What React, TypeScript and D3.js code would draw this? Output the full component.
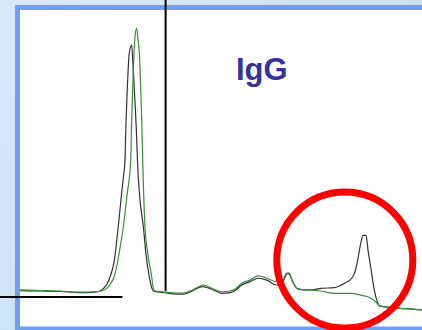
import React from 'react';
import * as d3 from 'd3';

// elution volume (mL) and absorbance (mAU)
const blackVol = [0, 1.25, 2.5, 3.75, 4.69, 5.0, 5.25, 5.44, 5.63, 5.88, 6.14, 6.31, 6.44, 6.56, 6.63, 6.71, 6.83, 6.98, 7.08, 7.19, 7.29, 7.34, 7.5, 7.71, 7.88, 8.08, 8.23, 8.38, 8.75, 9.38, 10.19, 10.83, 11.13, 11.46, 11.75, 12.08, 12.61, 13.13, 13.5, 13.86, 14.38, 14.89, 15.42, 16.04, 16.38, 16.67, 16.81, 17.04, 17.36, 17.81, 18.19, 18.81, 19.64, 20.31, 20.73, 20.94, 21.13, 21.31, 21.46, 21.63, 21.75, 21.98, 22.14, 22.33, 22.5, 23.13, 23.75, 24.38, 25.13];
const blackAbs = [1, 0, -2, -6, -4, 0, 12, 27, 55, 112, 247, 350, 427, 504, 658, 786, 915, 946, 850, 723, 592, 504, 350, 247, 138, 55, 12, -2, -4, -10, -12, 2, 12, 17, 12, 4, -9, -6, 4, 23, 36, 49, 42, 23, 31, 65, 69, 36, 8, 4, 4, 10, 13, 31, 49, 74, 127, 188, 215, 212, 158, 68, 4, -41, -58, -63, -67, -69, -73];

const greenVol = [0, 1.25, 2.5, 3.75, 4.88, 5.25, 5.5, 5.69, 5.88, 6.06, 6.25, 6.46, 6.69, 6.92, 6.98, 7.08, 7.19, 7.29, 7.38, 7.46, 7.54, 7.61, 7.67, 7.81, 8.0, 8.23, 8.33, 8.5, 8.75, 9.38, 10.19, 10.83, 11.13, 11.46, 11.75, 12.08, 12.61, 13.13, 13.5, 13.86, 14.38, 14.89, 15.42, 16.04, 16.38, 16.67, 16.81, 17.04, 17.36, 17.81, 18.19, 18.81, 19.64, 20.69, 21.25, 21.73, 22.0, 22.31, 22.5, 23.13, 23.75, 24.38, 25.13];
const greenAbs = [4, 2, 0, -4, -2, 4, 15, 31, 55, 100, 165, 247, 369, 504, 658, 850, 978, 1010, 965, 915, 786, 658, 504, 247, 138, 55, 12, 0, -2, -6, -8, 6, 15, 23, 17, 8, -3, 0, 10, 30, 42, 58, 49, 36, 37, 69, 65, 36, 8, 4, 4, 0, -9, -9, -15, -22, -31, -46, -58, -63, -67, -69, -73];

const markerVol = 9.1;
const baselineMark = -23;
const baselineMarkEnd = 6.4;
const label = 'IgG';
const highlight = { vol: 20.3, abs: 119 };

const W = 422;
const H = 330;

export default function App() {
  const x = d3.scaleLinear().domain([0, 25]).range([20, 420]);
  const y = d3.scaleLinear().domain([0, 1000]).range([291, 31]);

  const line = d3.line<[number, number]>()
    .x(d => x(d[0]))
    .y(d => y(d[1]))
    .curve(d3.curveMonotoneX);

  const black = blackVol.map((v, i) => [v, blackAbs[i]] as [number, number]);
  const green = greenVol.map((v, i) => [v, greenAbs[i]] as [number, number]);

  return (
    <svg width={W} height={H} style={{ position: 'fixed', left: 0, top: 0, display: 'block' }}>
      <defs>
        <linearGradient id="bg" x1="0" y1="0" x2="1" y2="1">
          <stop offset="0" stopColor="#d9e9f7" />
          <stop offset="0.5" stopColor="#cfe2f4" />
          <stop offset="1" stopColor="#dceaf8" />
        </linearGradient>
      </defs>
      <rect width={W} height={H} fill="url(#bg)" />
      <rect x={17.5} y={7.5} width={500} height={321.5} fill="#fff" stroke="#6d9ef8" strokeWidth={5} />

      <path d={line(black) ?? ''} fill="none" stroke="#333" strokeWidth={1.2} />
      <path d={line(green) ?? ''} fill="none" stroke="#3a8c3a" strokeWidth={1.2} />

      <line x1={x(markerVol)} x2={x(markerVol)} y1={0} y2={y(0)} stroke="#000" strokeWidth={2} />
      <line x1={0} x2={x(baselineMarkEnd)} y1={y(baselineMark)} y2={y(baselineMark)} stroke="#000" strokeWidth={2} />

      <text x={236} y={80} fill="#333399" fontFamily="Liberation Sans, Arial, sans-serif" fontWeight="bold" fontSize={31}>
        {label}
      </text>

      <circle cx={x(highlight.vol)} cy={y(highlight.abs)} r={68} fill="none" stroke="#ff0000" strokeWidth={7} />
    </svg>
  );
}
